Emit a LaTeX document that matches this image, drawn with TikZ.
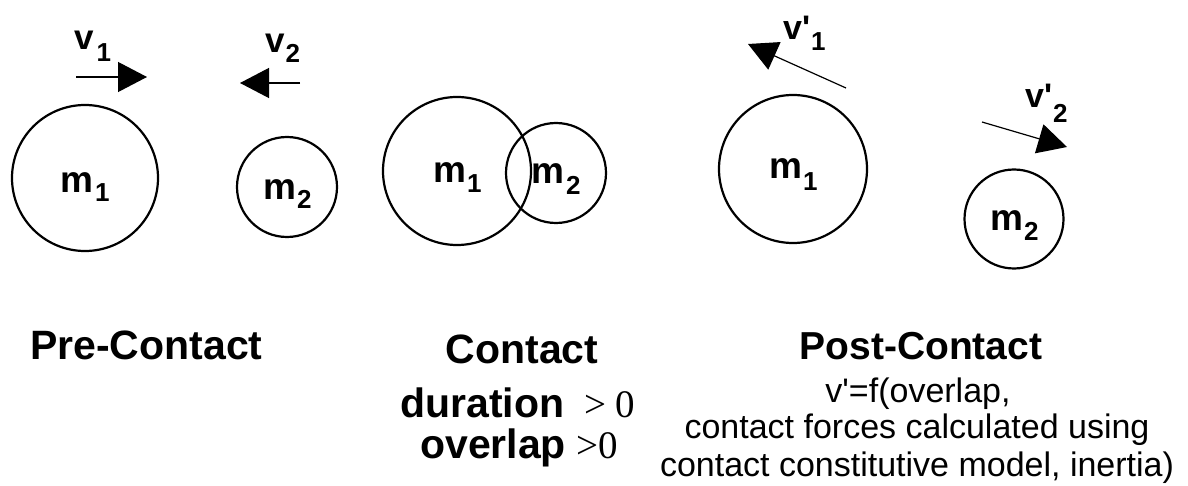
\documentclass[tikz,border=0pt]{standalone}
\usepackage{fontspec}
\setmainfont{Liberation Sans}
\newfontfamily\tms{Liberation Serif}
\usetikzlibrary{arrows.meta}
\newcommand{\sbx}[2][9pt]{\raisebox{-#1}{\fontsize{26}{26}\selectfont #2}}
\begin{document}
\begin{tikzpicture}[x=1pt,y=-1pt,
  ball/.style={draw,circle,line width=2.2pt,inner sep=0pt},
  vel/.style={line width=1.2pt,-{Triangle[length=29pt,width=30pt]}},
  mlab/.style={anchor=base west,inner sep=0pt,font=\fontsize{37}{40}\selectfont\bfseries},
  vlab/.style={anchor=base west,inner sep=0pt,font=\fontsize{35}{40}\selectfont\bfseries},
  title/.style={anchor=base,inner sep=0pt,font=\fontsize{41}{44}\selectfont\bfseries},
  note/.style={anchor=base,inner sep=0pt,font=\fontsize{34}{38}\selectfont}]
\useasboundingbox (0,0) rectangle (1188,486);
% Pre-contact
\node[ball,minimum size=146pt] (pm1) at (85,178) {};
\node[ball,minimum size=100pt] (pm2) at (287,187) {};
\node[mlab] (pm1l) at (60,193) {m\kern2pt\sbx{1}};
\node[mlab] (pm2l) at (263,200) {m\kern1pt\sbx{2}};
\coordinate (v1s) at (76,77);
\coordinate (v1e) at (147,77);
\draw[vel] (v1s) -- (v1e);
\coordinate (v2s) at (300,83);
\coordinate (v2e) at (240,83);
\draw[vel] (v2s) -- (v2e);
\node[vlab] (v1l) at (74,50) {v\kern3pt\sbx[12pt]{1}};
\node[vlab] (v2l) at (265,53) {v\kern1pt\sbx[10pt]{2}};
% Contact
\node[ball,minimum size=148pt] (cm1) at (457,171) {};
\node[ball,minimum size=100pt] (cm2) at (556,173) {};
\node[mlab] (cm1l) at (433,183) {m\kern1pt\sbx[10pt]{1}};
\node[mlab] (cm2l) at (531,184) {m\kern2pt\sbx[11pt]{2}};
% Post-contact
\node[ball,minimum size=148pt] (qm1) at (793,169) {};
\node[ball,minimum size=99pt] (qm2) at (1014,219) {};
\node[mlab] (qm1l) at (769,179) {m\kern1pt\sbx[12pt]{1}};
\node[mlab] (qm2l) at (990,231) {m\kern1pt\sbx[10pt]{2}};
\coordinate (w1s) at (846,88);
\coordinate (w1e) at (748,44);
\draw[vel] (w1s) -- (w1e);
\coordinate (w2s) at (982,122);
\coordinate (w2e) at (1067,147);
\draw[vel] (w2s) -- (w2e);
\node[vlab,font=\fontsize{34}{38}\selectfont\bfseries] (w1l) at (783,40) {v\textquotesingle\kern1pt\sbx[11pt]{1}};
\node[vlab,font=\fontsize{34}{38}\selectfont\bfseries] (w2l) at (1025,108) {v\textquotesingle\kern1pt\sbx[15pt]{2}};
% Captions
\node[title,anchor=base west] (pre) at (30,359) {Pre-Contact};
\node[title] (con) at (522,363) {Contact};
\node[anchor=base west,inner sep=0pt] (dur) at (400,417)
  {{\fontsize{41}{44}\selectfont\bfseries duration}\hspace{20pt}{\tms\fontsize{39}{42}\selectfont >\hspace{9pt}0}};
\node[anchor=base west,inner sep=0pt] (ovl) at (420,458)
  {{\fontsize{41}{44}\selectfont\bfseries overlap}\hspace{10pt}{\tms\fontsize{39}{42}\selectfont >0}};
\node[title,font=\fontsize{39}{44}\selectfont\bfseries] (post) at (921,359) {Post-Contact};
\node[note] (n1) at (918,402) {v\textquotesingle=f(overlap,};
\node[note] (n2) at (917,438) {contact forces calculated using};
\node[note] (n3) at (917,476) {contact constitutive model, inertia)};
\end{tikzpicture}
\end{document}
